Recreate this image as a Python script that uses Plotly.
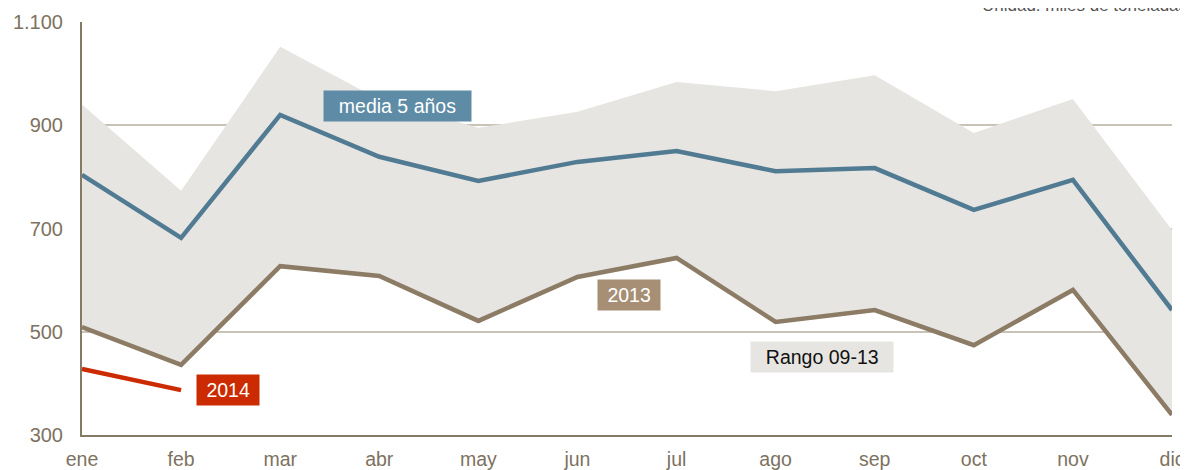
import plotly.graph_objects as go

months = ["ene", "feb", "mar", "abr", "may", "jun", "jul", "ago", "sep", "oct", "nov", "dic"]
media5 = [804, 682, 920, 839, 792, 829, 850, 811, 817, 736, 794, 542]
y2013 = [509, 436, 627, 608, 521, 606, 643, 519, 542, 474, 581, 339]
y2014 = [428, 387]
rango_max = [940, 773, 1052, 950, 895, 926, 984, 966, 997, 885, 951, 697]
rango_min = y2013
ytick_vals = [300, 500, 700, 900, 1100]
ytick_text = ["300", "500", "700", "900", "1.100"]

x = list(range(len(months)))
NB = "\u00a0"

fig = go.Figure()
fig.add_trace(go.Scatter(x=x, y=rango_min, mode="lines", line=dict(width=0),
                         showlegend=False, hoverinfo="skip"))
fig.add_trace(go.Scatter(x=x, y=rango_max, mode="lines", line=dict(width=0),
                         fill="tonexty", fillcolor="#e6e5e1", showlegend=False))
fig.add_trace(go.Scatter(x=x, y=y2013, mode="lines", line=dict(color="#8c7b65", width=4.5),
                         cliponaxis=False, showlegend=False))
fig.add_trace(go.Scatter(x=x, y=media5, mode="lines", line=dict(color="#517b93", width=4.5),
                         cliponaxis=False, showlegend=False))
fig.add_trace(go.Scatter(x=x[:len(y2014)], y=y2014, mode="lines",
                         line=dict(color="#cc2a00", width=4.5),
                         cliponaxis=False, showlegend=False))

FAM = "Liberation Sans, Arial, sans-serif"
lab_font = dict(family=FAM, size=19.5, color="white")

def pad(t, n):
    return NB * n + t + NB * n

fig.add_annotation(x=3.18, y=937, text=pad("media 5 años", 2), showarrow=False,
                   font=lab_font, bgcolor="#5e8ca6", borderpad=4)
fig.add_annotation(x=5.52, y=571, text=pad("2013", 1), showarrow=False,
                   font=lab_font, bgcolor="#a68f74", borderpad=4)
fig.add_annotation(x=1.47, y=387, text=pad("2014", 1), showarrow=False,
                   font=lab_font, bgcolor="#cc2a00", borderpad=4)
fig.add_annotation(x=7.47, y=451, text=pad("Rango 09-13", 2), showarrow=False,
                   font=dict(family=FAM, size=19.5, color="#111111"),
                   bgcolor="#e6e5e1", borderpad=4)
fig.add_annotation(xref="paper", yref="paper", x=0.824, xanchor="left",
                   y=1.0, yshift=5, yanchor="bottom",
                   text="Unidad: miles de toneladas", showarrow=False,
                   font=dict(family=FAM, size=17, color="#555555"))

fig.update_layout(
    width=1180, height=462,
    margin=dict(l=74, r=16, t=14, b=35, autoexpand=False),
    plot_bgcolor="white", paper_bgcolor="white",
    font=dict(family=FAM, size=20, color="#7d7261"),
    xaxis=dict(range=[0, 11], tickmode="array", tickvals=x, ticktext=months,
               showgrid=False, zeroline=False, showline=True, linecolor="#857a66",
               linewidth=2, ticks="", tickfont=dict(size=19.5), ticklabelstandoff=6),
    yaxis=dict(range=[300, 1100], tickmode="array", tickvals=ytick_vals, ticktext=ytick_text,
               showgrid=True, gridcolor="#c8c3b6", gridwidth=1.5, zeroline=False,
               showline=True, linecolor="#857a66", linewidth=2, ticks="",
               ticklabelstandoff=13),
)

fig.write_html("out.html")
